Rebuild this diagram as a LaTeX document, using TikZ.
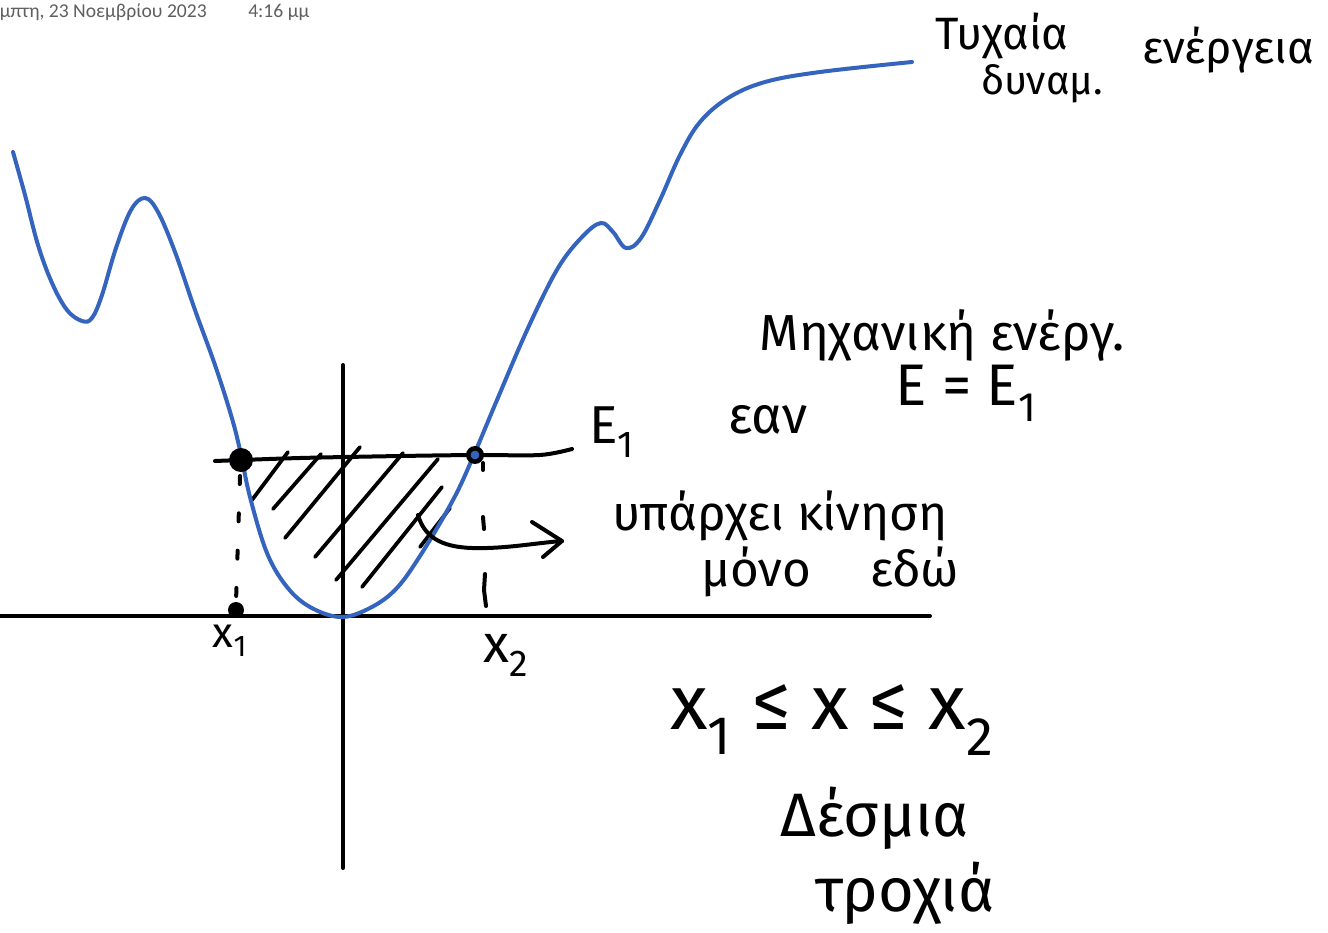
\documentclass[tikz,border=0pt]{standalone}
\usepackage{fontspec}
\setmainfont{Fira Sans}
\newfontfamily\datefont{Carlito}
\usepackage{graphicx}
\definecolor{curveblue}{RGB}{52,100,190}
\definecolor{dategray}{RGB}{95,95,95}
\begin{document}
\begin{tikzpicture}[x=0.75pt,y=-0.75pt,
  ink/.style={line width=3pt,line cap=round,line join=round,black},
  hatchline/.style={line width=2.8pt,line cap=round,black},
  potcurve/.style={line width=3pt,line cap=round,curveblue},
  hw/.style={inner sep=0pt,font=\fontsize{#1}{#1}\selectfont},
  datestyle/.style={inner sep=0pt,text=dategray,font=\datefont\fontsize{14.7}{16}\selectfont}]
\clip (0,0) rectangle (1328,932);
\fill[white] (0,0) rectangle (1328,932);

% date line
\node[datestyle,anchor=east] (date) at (207,12) {μπτη, 23 Νοεμβρίου 2023};
\node[datestyle,anchor=west] (time) at (248,12) {4:16 μμ};

% hatching
\draw[hatchline] (252,500) -- (288,452);
\draw[hatchline] (273,509) -- (321,454);
\draw[hatchline] (285,538) -- (360,447);
\draw[hatchline] (315,557) -- (403,453);
\draw[hatchline] (336,580) -- (438,459);
\draw[hatchline] (362,587) -- (442,487);
\draw[hatchline] (420,547) -- (450,508);

% axes
\coordinate (vtop) at (343,365);
\coordinate (vbot) at (343,868);
\coordinate (hleft) at (0,616);
\coordinate (hright) at (930,616);
\draw[ink] (vtop) -- (vbot);
\draw[ink] (hleft) -- (hright);

% potential curve
\draw[potcurve] plot[smooth,tension=0.6] coordinates {
 (13,152) (25,195) (38,245) (52,283) (67,310) (82,321) (92,318)
 (102,295) (116,248) (131,210) (145,198) (158,212) (175,252)
 (195,310) (215,365) (231,415) (240,450) (250,497) (267,553)
 (287,587) (310,607) (340,617) (368,609) (395,590) (420,556)
 (453,500) (473,457) (497,400) (528,328) (558,268) (583,236)
 (601,223) (613,232) (626,248) (641,238) (660,200) (680,155)
 (700,122) (728,98) (765,82) (820,72) (912,62)};

% energy line E1
\draw[ink] plot[smooth,tension=0.5] coordinates {(215,461) (300,458) (400,456) (475,455) (540,455) (572,449)};

% dashed verticals
\coordinate (d1top) at (240,476);
\coordinate (d1bot) at (236,602);
\draw[ink,dash pattern=on 6pt off 22pt] (d1top) -- (d1bot);
\draw[ink] (483,463) -- (483,470);
\draw[ink] (483,517) -- (484,529);
\draw[ink] (485,574) -- (484,590) -- (486,606);

% turning points
\fill[black] (241,460) circle (9pt);
\filldraw[fill=curveblue,draw=black,line width=3.4pt] (475,455) circle (5pt);
\fill[black] (236,610) circle (6pt);

% arrow
\coordinate (arrS) at (418,515);
\coordinate (arrE) at (562,541);
\draw[ink] (arrS) .. controls (424,536) and (440,547) .. (472,548) .. controls (505,549) and (535,543) .. (arrE);
\draw[ink] (532,522) -- (arrE) -- (543,557);

% texts
\node[hw=34] (t1) at (1002,36) {Τυχαία};
\node[hw=30] (t2) at (1042,84) {δυναμ.};
\node[hw=34] (t3) at (1228,50) {ενέργεια};
\node[hw=38] (mech) at (942,336) {Μηχανική ενέργ.};
\node[hw=44] (eq) at (966,393) {E = E\textsubscript{1}};
\node[hw=39] (ean) at (768,420) {εαν};
\node[hw=40] (e1) at (612,432) {E\textsubscript{1}};
\node[hw=37] (mv1) at (780,516) {υπάρχει κίνηση};
\node[hw=37] (mv2) at (830,572) {μόνο\hspace{1.2em}εδώ};
\node[hw=32] (x1) at (230,641) {x\textsubscript{1}};
\node[hw=40] (x2) at (506,655) {x\textsubscript{2}};
\node[hw=58] (ineq) at (832,720) {x\textsubscript{1} ≤ x ≤ x\textsubscript{2}};
\node[hw=46] (desm) at (875,818) {Δέσμια};
\node[hw=46] (troch) at (905,893) {τροχιά};
\end{tikzpicture}
\end{document}
